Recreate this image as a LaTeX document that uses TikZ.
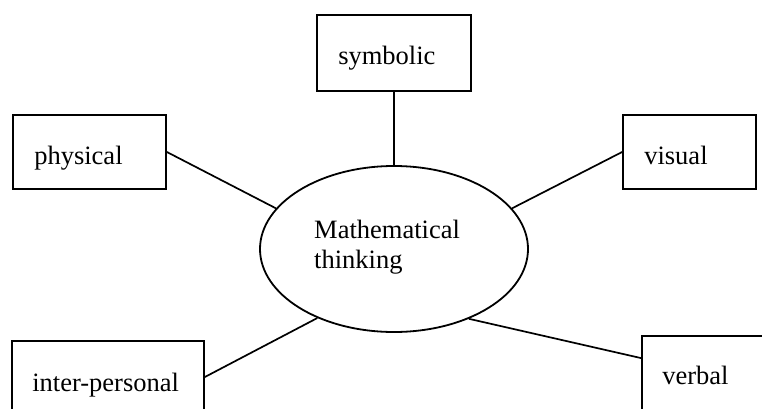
\documentclass[tikz,border=0pt]{standalone}
\usepackage{fontspec}
\setmainfont{Liberation Serif}
\usetikzlibrary{shapes.geometric,calc}
\begin{document}
\begin{tikzpicture}[x=1pt,y=-1pt,
  box/.style={draw,line width=1.8pt,inner sep=0pt,rectangle},
  lbl/.style={inner sep=0pt,anchor=base west,font=\fontsize{26.5}{30}\selectfont},
  conn/.style={line width=1.7pt}]
\useasboundingbox (0,0) rectangle (762,409);
\clip (0,0) rectangle (762,409);
% boxes
\node[box,minimum width=154pt,minimum height=76pt] (sym) at (394,53) {};
\node[box,minimum width=153pt,minimum height=74pt] (phy) at (89.5,152) {};
\node[box,minimum width=133pt,minimum height=74pt] (vis) at (689.5,152) {};
\node[box,minimum width=192pt,minimum height=72pt] (ip) at (108,377) {};
\node[box,minimum width=140pt,minimum height=90pt] (vb) at (712,381) {};
% labels
\node[lbl] (symt) at ($(sym.north west)+(22pt,-50pt)$) {symbolic};
\node[lbl] (phyt) at ($(phy.north west)+(22pt,-50pt)$) {physical};
\node[lbl] (vist) at ($(vis.north west)+(22pt,-50pt)$) {visual};
\node[lbl] (ipt) at ($(ip.north west)+(21pt,-51pt)$) {inter-personal};
\node[lbl] (vbt) at ($(vb.north west)+(21pt,-49pt)$) {verbal};
% ellipse
\node[draw,ellipse,line width=1.8pt,minimum width=268pt,minimum height=166pt,inner sep=0pt] (ell) at (394,249) {};
\node[lbl] (mt1) at (314,238) {Mathematical};
\node[lbl] (mt2) at (314,268) {thinking};
% connectors
\coordinate (vbw) at ($(vb.north west)+(0,-23pt)$);
\draw[conn] (sym.south) -- (ell.north);
\draw[conn] (phy.east) -- (ell.161);
\draw[conn] (vis.west) -- (ell.19);
\draw[conn] (ip.east) -- (ell.222);
\draw[conn] (vbw) -- (ell.-43);
\end{tikzpicture}
\end{document}
